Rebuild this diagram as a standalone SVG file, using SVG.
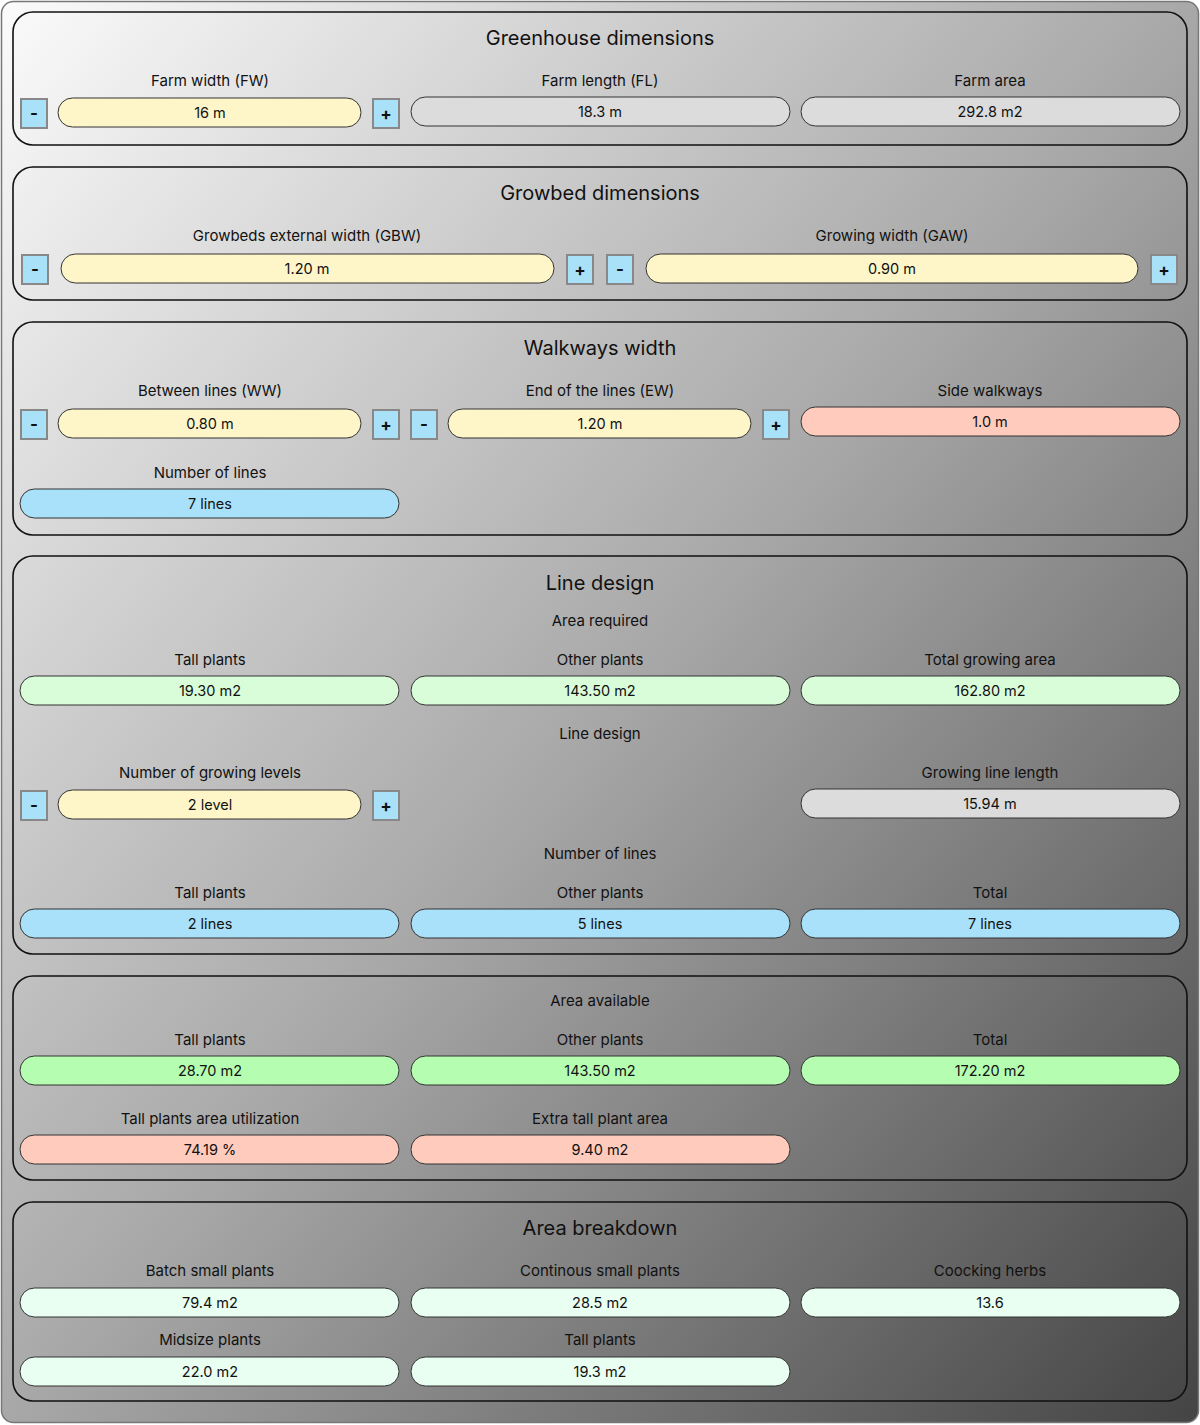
<svg xmlns="http://www.w3.org/2000/svg" width="1200" height="1425" viewBox="0 0 1200 1425">
<defs>
<linearGradient id="bg" x1="0" y1="0" x2="1" y2="1"><stop offset="0" stop-color="#fbfbfb"/><stop offset="0.5" stop-color="#a8a8a8"/><stop offset="1" stop-color="#444"/></linearGradient>
</defs>
<style>
text{font-family:Inter,"Noto Sans","Liberation Sans",sans-serif;fill:#111;text-anchor:middle}
.t{font-size:20px}.l{font-size:15px}.v{font-size:14.5px}
.p{stroke:#333;stroke-width:1}
.panel{fill:none;stroke:#111;stroke-width:1.6}
.b{fill:#a9e1f9;stroke:#888;stroke-width:2}
.bt{font-size:17px;font-weight:bold}
.y{fill:#fef6c9}.g{fill:#dcdcdc}.s{fill:#ffcbbd}.bl{fill:#a9e1fa}.lg{fill:#d9fdd8}.gr{fill:#b5fdb1}.m{fill:#e9fff2}
</style>
<rect x="1.5" y="1.5" width="1197" height="1421" rx="12" fill="url(#bg)" stroke="#777" stroke-width="1.5"/>

<g id="greenhouse">
<rect class="panel" x="13" y="12" width="1174" height="133" rx="20"/>
<text class="t" x="600" y="45">Greenhouse dimensions</text>
<text class="l" x="210" y="86">Farm width (FW)</text>
<rect class="b" x="21" y="99" width="26" height="29"/><text class="bt" x="34" y="119">-</text>
<rect class="p y" x="58" y="98" width="303" height="29" rx="14.5"/><text class="v" x="210" y="118">16 m</text>
<rect class="b" x="373" y="99" width="26" height="29"/><text class="bt" x="386" y="120">+</text>
<text class="l" x="600" y="86">Farm length (FL)</text>
<rect class="p g" x="411" y="97" width="379" height="29" rx="14.5"/><text class="v" x="600" y="117">18.3 m</text>
<text class="l" x="990" y="86">Farm area</text>
<rect class="p g" x="801" y="97" width="379" height="29" rx="14.5"/><text class="v" x="990" y="117">292.8 m2</text>
</g>

<g id="growbed">
<rect class="panel" x="13" y="167" width="1174" height="133" rx="20"/>
<text class="t" x="600" y="200">Growbed dimensions</text>
<text class="l" x="307" y="241">Growbeds external width (GBW)</text>
<rect class="b" x="22" y="255" width="26" height="29"/><text class="bt" x="35" y="275">-</text>
<rect class="p y" x="61" y="254" width="493" height="29" rx="14.5"/><text class="v" x="307" y="274">1.20 m</text>
<rect class="b" x="567" y="255" width="26" height="29"/><text class="bt" x="580" y="276">+</text>
<text class="l" x="892" y="241">Growing width (GAW)</text>
<rect class="b" x="607" y="255" width="26" height="29"/><text class="bt" x="620" y="275">-</text>
<rect class="p y" x="646" y="254" width="492" height="29" rx="14.5"/><text class="v" x="892" y="274">0.90 m</text>
<rect class="b" x="1151" y="255" width="26" height="29"/><text class="bt" x="1164" y="276">+</text>
</g>

<g id="walkways">
<rect class="panel" x="13" y="322" width="1174" height="213" rx="20"/>
<text class="t" x="600" y="355">Walkways width</text>
<text class="l" x="210" y="396">Between lines (WW)</text>
<rect class="b" x="21" y="410" width="26" height="29"/><text class="bt" x="34" y="430">-</text>
<rect class="p y" x="58" y="409" width="303" height="29" rx="14.5"/><text class="v" x="210" y="429">0.80 m</text>
<rect class="b" x="373" y="410" width="26" height="29"/><text class="bt" x="386" y="431">+</text>
<text class="l" x="600" y="396">End of the lines (EW)</text>
<rect class="b" x="411" y="410" width="26" height="29"/><text class="bt" x="424" y="430">-</text>
<rect class="p y" x="448" y="409" width="303" height="29" rx="14.5"/><text class="v" x="600" y="429">1.20 m</text>
<rect class="b" x="763" y="410" width="26" height="29"/><text class="bt" x="776" y="431">+</text>
<text class="l" x="990" y="396">Side walkways</text>
<rect class="p s" x="801" y="407" width="379" height="29" rx="14.5"/><text class="v" x="990" y="427">1.0 m</text>
<text class="l" x="210" y="478">Number of lines</text>
<rect class="p bl" x="20" y="489" width="379" height="29" rx="14.5"/><text class="v" x="210" y="509">7 lines</text>
</g>

<g id="line-design">
<rect class="panel" x="13" y="556" width="1174" height="398" rx="20"/>
<text class="t" x="600" y="590">Line design</text>
<text class="l" x="600" y="626">Area required</text>
<text class="l" x="210" y="665">Tall plants</text>
<rect class="p lg" x="20" y="676" width="379" height="29" rx="14.5"/><text class="v" x="210" y="696">19.30 m2</text>
<text class="l" x="600" y="665">Other plants</text>
<rect class="p lg" x="411" y="676" width="379" height="29" rx="14.5"/><text class="v" x="600" y="696">143.50 m2</text>
<text class="l" x="990" y="665">Total growing area</text>
<rect class="p lg" x="801" y="676" width="379" height="29" rx="14.5"/><text class="v" x="990" y="696">162.80 m2</text>
<text class="l" x="600" y="739">Line design</text>
<text class="l" x="210" y="778">Number of growing levels</text>
<rect class="b" x="21" y="791" width="26" height="29"/><text class="bt" x="34" y="811">-</text>
<rect class="p y" x="58" y="790" width="303" height="29" rx="14.5"/><text class="v" x="210" y="810">2 level</text>
<rect class="b" x="373" y="791" width="26" height="29"/><text class="bt" x="386" y="812">+</text>
<text class="l" x="990" y="778">Growing line length</text>
<rect class="p g" x="801" y="789" width="379" height="29" rx="14.5"/><text class="v" x="990" y="809">15.94 m</text>
<text class="l" x="600" y="859">Number of lines</text>
<text class="l" x="210" y="898">Tall plants</text>
<rect class="p bl" x="20" y="909" width="379" height="29" rx="14.5"/><text class="v" x="210" y="929">2 lines</text>
<text class="l" x="600" y="898">Other plants</text>
<rect class="p bl" x="411" y="909" width="379" height="29" rx="14.5"/><text class="v" x="600" y="929">5 lines</text>
<text class="l" x="990" y="898">Total</text>
<rect class="p bl" x="801" y="909" width="379" height="29" rx="14.5"/><text class="v" x="990" y="929">7 lines</text>
</g>

<g id="area-available">
<rect class="panel" x="13" y="976" width="1174" height="204" rx="20"/>
<text class="l" x="600" y="1006">Area available</text>
<text class="l" x="210" y="1045">Tall plants</text>
<rect class="p gr" x="20" y="1056" width="379" height="29" rx="14.5"/><text class="v" x="210" y="1076">28.70 m2</text>
<text class="l" x="600" y="1045">Other plants</text>
<rect class="p gr" x="411" y="1056" width="379" height="29" rx="14.5"/><text class="v" x="600" y="1076">143.50 m2</text>
<text class="l" x="990" y="1045">Total</text>
<rect class="p gr" x="801" y="1056" width="379" height="29" rx="14.5"/><text class="v" x="990" y="1076">172.20 m2</text>
<text class="l" x="210" y="1124">Tall plants area utilization</text>
<rect class="p s" x="20" y="1135" width="379" height="29" rx="14.5"/><text class="v" x="210" y="1155">74.19 %</text>
<text class="l" x="600" y="1124">Extra tall plant area</text>
<rect class="p s" x="411" y="1135" width="379" height="29" rx="14.5"/><text class="v" x="600" y="1155">9.40 m2</text>
</g>

<g id="area-breakdown">
<rect class="panel" x="13" y="1202" width="1174" height="199" rx="20"/>
<text class="t" x="600" y="1235">Area breakdown</text>
<text class="l" x="210" y="1276">Batch small plants</text>
<rect class="p m" x="20" y="1288" width="379" height="29" rx="14.5"/><text class="v" x="210" y="1308">79.4 m2</text>
<text class="l" x="600" y="1276">Continous small plants</text>
<rect class="p m" x="411" y="1288" width="379" height="29" rx="14.5"/><text class="v" x="600" y="1308">28.5 m2</text>
<text class="l" x="990" y="1276">Coocking herbs</text>
<rect class="p m" x="801" y="1288" width="379" height="29" rx="14.5"/><text class="v" x="990" y="1308">13.6</text>
<text class="l" x="210" y="1345">Midsize plants</text>
<rect class="p m" x="20" y="1357" width="379" height="29" rx="14.5"/><text class="v" x="210" y="1377">22.0 m2</text>
<text class="l" x="600" y="1345">Tall plants</text>
<rect class="p m" x="411" y="1357" width="379" height="29" rx="14.5"/><text class="v" x="600" y="1377">19.3 m2</text>
</g>
<g id="connectors"/>
</svg>
